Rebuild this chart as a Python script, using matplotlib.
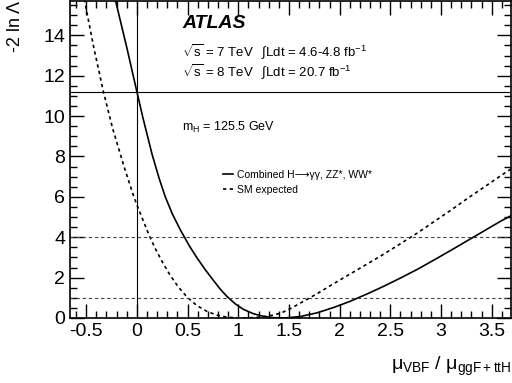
import matplotlib
matplotlib.use("Agg")
import matplotlib.pyplot as plt
from matplotlib.ticker import MultipleLocator

plt.rcParams["font.family"] = ["Liberation Sans", "DejaVu Sans"]
plt.rcParams["mathtext.fontset"] = "custom"
plt.rcParams["mathtext.rm"] = "Liberation Sans"
plt.rcParams["mathtext.it"] = "Liberation Sans:italic"
plt.rcParams["mathtext.bf"] = "Liberation Sans:bold"

# Observed combination (solid)
obs_x = [-0.25, -0.21, -0.10, 0.00, 0.06, 0.15, 0.22, 0.28, 0.35, 0.43, 0.52, 0.59,
         0.67, 0.755, 0.82, 0.89, 0.97, 1.05, 1.15, 1.25, 1.35, 1.45, 1.61, 1.78,
         1.94, 2.10, 2.27, 2.43, 2.60, 2.77, 2.93, 3.10, 3.26, 3.43, 3.59, 3.71]
obs_y = [16.5, 15.7, 13.4, 11.2, 9.9, 8.1, 6.9, 6.0, 5.15, 4.35, 3.55, 3.0,
         2.42, 1.86, 1.44, 1.06, 0.70, 0.43, 0.21, 0.08, 0.015, 0.0, 0.07, 0.26,
         0.52, 0.82, 1.19, 1.56, 1.98, 2.42, 2.87, 3.36, 3.83, 4.33, 4.80, 5.12]

# SM expected (dashed)
exp_x = [-0.55, -0.515, -0.43, -0.33, -0.24, -0.13, -0.03, 0.00, 0.06, 0.12, 0.18,
         0.25, 0.33, 0.41, 0.49, 0.59, 0.69, 0.79, 0.89, 1.00, 1.10, 1.20, 1.30,
         1.42, 1.52, 1.62, 1.72, 1.81, 1.94, 2.10, 2.27, 2.43, 2.60, 2.77, 2.93,
         3.10, 3.26, 3.43, 3.59, 3.71]
exp_y = [16.7, 15.7, 13.5, 11.2, 9.4, 7.55, 6.0, 5.6, 4.85, 4.1, 3.45,
         2.78, 2.1, 1.53, 1.06, 0.62, 0.33, 0.14, 0.04, 0.0, 0.01, 0.04, 0.1,
         0.24, 0.48, 0.76, 1.04, 1.3, 1.7, 2.17, 2.67, 3.15, 3.68, 4.22, 4.77,
         5.35, 5.92, 6.5, 7.05, 7.45]

ref_levels = [1, 4]
cross_val = 11.2

fig = plt.figure(figsize=(5.12, 3.83), dpi=100)
ax = fig.add_axes([70 / 512, 1 - 318 / 383, 441 / 512, 317 / 383])

ax.plot(obs_x, obs_y, color="black", lw=1.2, label="Combined H\u27f6\u03b3\u03b3, ZZ*, WW*")
ax.plot(exp_x, exp_y, color="black", lw=1.2, dashes=(2, 2), label="SM expected")
for lvl in ref_levels:
    ax.axhline(lvl, color="#444444", lw=0.8, dashes=(3, 2.5))
ax.axhline(cross_val, color="black", lw=0.8)
ax.axvline(0, color="black", lw=0.8)

ax.set_xlim(-0.66, 3.69)
ax.set_ylim(0, 15.7)
ax.xaxis.set_major_locator(MultipleLocator(0.5))
ax.xaxis.set_minor_locator(MultipleLocator(0.1))
ax.yaxis.set_major_locator(MultipleLocator(2))
ax.yaxis.set_minor_locator(MultipleLocator(0.5))
ax.tick_params(which="both", direction="in", top=True, right=True, labelsize=14, width=1)
ax.tick_params(which="major", length=10)
ax.tick_params(which="minor", length=5)
ax.set_xticks([-0.5, 0, 0.5, 1, 1.5, 2, 2.5, 3, 3.5])
ax.set_xticklabels(["-0.5", "0", "0.5", "1", "1.5", "2", "2.5", "3", "3.5"])
ax.set_yticks([0, 2, 4, 6, 8, 10, 12, 14])
for s in ax.spines.values():
    s.set_linewidth(1.2)

fig.text(182 / 512, 1 - 23.5 / 383, "ATLAS", fontsize=14, weight="bold", style="italic", va="center")
fig.text(182 / 512, 1 - 52 / 383, r"$\sqrt{\mathregular{s}}$ = 7 TeV", fontsize=9.5, va="center")
fig.text(182 / 512, 1 - 72 / 383, r"$\sqrt{\mathregular{s}}$ = 8 TeV", fontsize=9.5, va="center")
fig.text(261 / 512, 1 - 52 / 383, "\u222bLdt = 4.6-4.8 fb$^{\\mathregular{-1}}$", fontsize=9.5, va="center")
fig.text(261 / 512, 1 - 72 / 383, "\u222bLdt = 20.7 fb$^{\\mathregular{-1}}$", fontsize=9.5, va="center")
fig.text(182 / 512, 1 - 127 / 383, "m$_{\\mathregular{H}}$ = 125.5 GeV", fontsize=9, va="center")

ax.legend(loc="upper left", bbox_to_anchor=(223 / 512, 1 - 170 / 383), bbox_transform=fig.transFigure,
          frameon=False, fontsize=7.5, handlelength=1.0, handletextpad=0.3, borderpad=0,
          borderaxespad=0, labelspacing=0.45)

fig.text(15 / 512, 1 - 1 / 383, "-2 ln \u039b", fontsize=13, rotation=90, ha="center", va="top")
fig.text(511 / 512, 1 - 366 / 383, "\u03bc$_{\\mathregular{VBF}}$ / \u03bc$_{\\mathregular{ggF+ttH}}$",
         fontsize=14, ha="right", va="center")

fig.savefig("out.png", dpi=100)
